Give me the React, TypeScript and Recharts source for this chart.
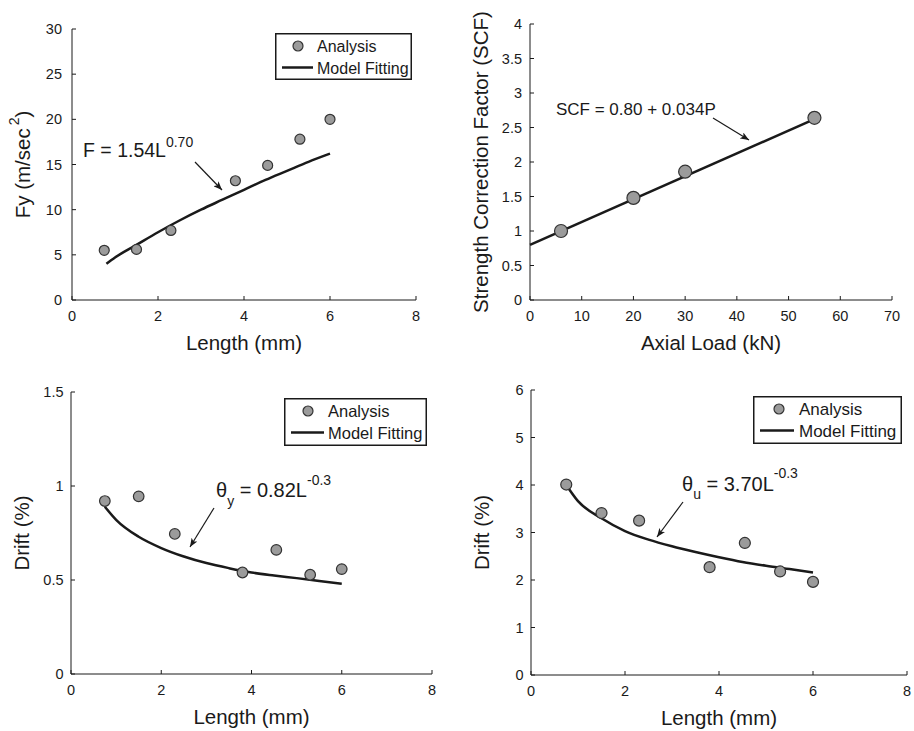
import React from "react";
import { ComposedChart, Scatter, Line, XAxis, YAxis, Legend } from "recharts";

const FONT = "'Liberation Sans', Arial, Helvetica, sans-serif";
const INK = "#1a1a1a";
const DOT = "#9b9b9b";

// top left: Fy vs length
const lengthMm = [0.75, 1.5, 2.3, 3.8, 4.55, 5.3, 6.0];
const fyAnalysis = [5.5, 5.6, 7.7, 13.2, 14.9, 17.8, 20.0];
const fitLengthFy = [0.8, 1, 1.5, 2, 2.5, 3, 3.5, 4, 4.5, 5, 5.5, 6];
const fyFit = [4.0, 4.7, 6.1, 7.5, 8.8, 10.0, 11.1, 12.2, 13.3, 14.3, 15.3, 16.2];

// top right: SCF vs axial load
const axialLoad = [6, 20, 30, 55];
const scfAnalysis = [1.0, 1.48, 1.86, 2.64];
const scfFitLoad = [0, 55];
const scfFit = [0.8, 2.62];

// bottom: drift vs length
const fitLengthDrift = [0.75, 1, 1.5, 2, 2.5, 3, 3.5, 4, 4.5, 5, 5.5, 6];
const driftYAnalysis = [0.92, 0.945, 0.745, 0.54, 0.66, 0.528, 0.558];
const driftYFit = [0.89, 0.82, 0.73, 0.67, 0.625, 0.59, 0.563, 0.54, 0.524, 0.51, 0.495, 0.48];
const driftUAnalysis = [4.01, 3.41, 3.25, 2.27, 2.78, 2.18, 1.96];
const driftUFit = [4.0, 3.66, 3.3, 3.03, 2.85, 2.71, 2.59, 2.48, 2.38, 2.3, 2.23, 2.16];

const xTicksLength = [0, 2, 4, 6, 8];
const xTicksLoad = [0, 10, 20, 30, 40, 50, 60, 70];
const yTicksFy = [0, 5, 10, 15, 20, 25, 30];
const yTicksScf = [0, 0.5, 1, 1.5, 2, 2.5, 3, 3.5, 4];
const yTicksDriftY = [0, 0.5, 1, 1.5];
const yTicksDriftU = [0, 1, 2, 3, 4, 5, 6];

const pairs = (xs: number[], ys: number[]) => xs.map((x, i) => ({ x, y: ys[i] }));

interface LegendSpec { x: number; y: number; w: number; h: number; cx: number; tx: number; lx2: number; fs: number; }

function LegendBox({ w, h, cx, tx, lx2, fs }: LegendSpec) {
  const txt = { fontFamily: FONT, fontSize: fs, fill: INK };
  return (
    <svg width={w} height={h} style={{ display: "block" }}>
      <rect x={0.75} y={0.75} width={w - 1.5} height={h - 1.5} fill="#fff" stroke={INK} strokeWidth={1.5} />
      <circle cx={cx} cy={13} r={5} fill={DOT} stroke="#333" strokeWidth={1.2} />
      <text x={tx} y={18.5} {...txt}>Analysis</text>
      <line x1={7} x2={lx2} y1={34.5} y2={34.5} stroke={INK} strokeWidth={2.5} />
      <text x={tx} y={41} {...txt}>Model Fitting</text>
    </svg>
  );
}

const yTitle = (title: React.ReactNode) => (props: any) => {
  const vb = props.viewBox || {};
  const cx = vb.x + vb.width - 50;
  const cy = vb.y + vb.height / 2;
  return (
    <text x={cx} y={cy} transform={`rotate(-90 ${cx} ${cy})`} textAnchor="middle"
      dominantBaseline="central" fontFamily={FONT} fontSize={20.5} fill={INK}>
      {title}
    </text>
  );
};

const xTitle = (title: string) => (props: any) => {
  const vb = props.viewBox || {};
  return (
    <text x={vb.x + vb.width / 2} y={vb.y + 42.5} textAnchor="middle" dominantBaseline="central"
      fontFamily={FONT} fontSize={20.5} fill={INK}>
      {title}
    </text>
  );
};

interface PanelProps {
  left: number; top: number; width: number; height: number;
  margin: { top: number; right: number; bottom: number; left: number };
  xDomain: [number, number]; xTicks: number[];
  yDomain: [number, number]; yTicks: number[];
  xLabel: string; yLabel: React.ReactNode;
  points: { x: number; y: number }[];
  fit: { x: number; y: number }[];
  fitType: "monotone" | "linear";
  r: number; yGap: number;
  legend?: LegendSpec;
}

function Panel(p: PanelProps) {
  const tick = { fontSize: 14.5, fill: INK, fontFamily: FONT };
  const axisLine = { stroke: INK, strokeWidth: 1 };
  return (
    <div style={{ position: "absolute", left: p.left, top: p.top, width: p.width, height: p.height }}>
      <ComposedChart width={p.width} height={p.height} margin={p.margin}>
        <XAxis dataKey="x" type="number" domain={p.xDomain} ticks={p.xTicks} interval={0}
          tick={tick} tickSize={-4} tickMargin={15} axisLine={axisLine} tickLine={axisLine}
          height={30} label={{ content: xTitle(p.xLabel) }} />
        <YAxis type="number" domain={p.yDomain} ticks={p.yTicks} interval={0}
          tick={tick} tickSize={-4} tickMargin={4 + p.yGap} axisLine={axisLine} tickLine={axisLine}
          width={60} label={{ content: yTitle(p.yLabel) }} />
        {p.legend && (
          <Legend layout="vertical" align="center" verticalAlign="middle"
            wrapperStyle={{ left: p.legend.x, top: p.legend.y, width: p.legend.w, height: p.legend.h, margin: 0 }}
            content={() => <LegendBox {...(p.legend as LegendSpec)} />} />
        )}
        <Line data={p.fit} dataKey="y" type={p.fitType} stroke={INK} strokeWidth={2.5}
          dot={false} activeDot={false} isAnimationActive={false} />
        <Scatter data={p.points} dataKey="y" isAnimationActive={false}
          shape={(s: any) => <circle cx={s.cx} cy={s.cy} r={p.r} fill={DOT} stroke="#333" strokeWidth={1.2} />} />
      </ComposedChart>
    </div>
  );
}

function Arrow({ x1, y1, x2, y2 }: { x1: number; y1: number; x2: number; y2: number }) {
  return <line x1={x1} y1={y1} x2={x2} y2={y2} stroke={INK} strokeWidth={1.2} markerEnd="url(#head)" />;
}

export default function App() {
  const note = { fontFamily: FONT, fill: INK };
  return (
    <div style={{ position: "absolute", left: 0, top: 0, width: 914, height: 731, background: "#fff" }}>
      <Panel left={0} top={0} width={457} height={366}
        margin={{ top: 29, right: 41, bottom: 36, left: 12 }}
        xDomain={[0, 8]} xTicks={xTicksLength} yDomain={[0, 30]} yTicks={yTicksFy}
        xLabel="Length (mm)"
        yLabel={<>Fy (m/sec<tspan dx={3} dy={-8} fontSize={14}>2</tspan><tspan dy={8}>)</tspan></>}
        points={pairs(lengthMm, fyAnalysis)} fit={pairs(fitLengthFy, fyFit)} fitType="monotone"
        r={5} yGap={10}
        legend={{ x: 275, y: 33, w: 137, h: 47, cx: 23, tx: 42, lx2: 38, fs: 16 }} />
      <Panel left={457} top={0} width={457} height={366}
        margin={{ top: 24, right: 22, bottom: 36, left: 13 }}
        xDomain={[0, 70]} xTicks={xTicksLoad} yDomain={[0, 4]} yTicks={yTicksScf}
        xLabel="Axial Load (kN)" yLabel="Strength Correction Factor (SCF)"
        points={pairs(axialLoad, scfAnalysis)} fit={pairs(scfFitLoad, scfFit)} fitType="linear"
        r={6.5} yGap={8} />
      <Panel left={0} top={366} width={457} height={365}
        margin={{ top: 26, right: 25, bottom: 27, left: 11 }}
        xDomain={[0, 8]} xTicks={xTicksLength} yDomain={[0, 1.5]} yTicks={yTicksDriftY}
        xLabel="Length (mm)" yLabel="Drift (%)"
        points={pairs(lengthMm, driftYAnalysis)} fit={pairs(fitLengthDrift, driftYFit)} fitType="monotone"
        r={5.3} yGap={7.5}
        legend={{ x: 284, y: 32, w: 143, h: 48, cx: 24, tx: 44, lx2: 40, fs: 16.5 }} />
      <Panel left={457} top={366} width={457} height={365}
        margin={{ top: 24, right: 7, bottom: 26, left: 14 }}
        xDomain={[0, 8]} xTicks={xTicksLength} yDomain={[0, 6]} yTicks={yTicksDriftU}
        xLabel="Length (mm)" yLabel="Drift (%)"
        points={pairs(lengthMm, driftUAnalysis)} fit={pairs(fitLengthDrift, driftUFit)} fitType="monotone"
        r={5.5} yGap={7.5}
        legend={{ x: 296, y: 30, w: 149, h: 48, cx: 26, tx: 46, lx2: 41, fs: 17 }} />

      {/* equation callouts */}
      <svg width={914} height={731} style={{ position: "absolute", left: 0, top: 0, pointerEvents: "none" }}>
        <defs>
          <marker id="head" viewBox="0 0 10 8" refX={10} refY={4} markerWidth={9} markerHeight={7}
            markerUnits="userSpaceOnUse" orient="auto">
            <path d="M0,0 L10,4 L0,8 L2.5,4 z" fill={INK} />
          </marker>
        </defs>
        <text x={83} y={157} fontSize={19.5} {...note}>
          F = 1.54L<tspan dy={-10} fontSize={14}>0.70</tspan>
        </text>
        <Arrow x1={195} y1={162} x2={222} y2={190} />
        <text x={556} y={115} fontSize={17} {...note}>SCF = 0.80 + 0.034P</text>
        <Arrow x1={713} y1={118} x2={749} y2={140} />
        <text x={216} y={497} fontSize={20} {...note}>
          θ<tspan dy={9} fontSize={14}>y</tspan>
          <tspan dy={-9}> = 0.82L</tspan>
          <tspan dy={-12.5} fontSize={14}>-0.3</tspan>
        </text>
        <Arrow x1={214} y1={508} x2={190} y2={547} />
        <text x={682} y={491} fontSize={20} {...note}>
          θ<tspan dy={8} fontSize={14}>u</tspan>
          <tspan dy={-8}> = 3.70L</tspan>
          <tspan dy={-13} fontSize={14}>-0.3</tspan>
        </text>
        <Arrow x1={683} y1={502} x2={657} y2={537} />
      </svg>
    </div>
  );
}
